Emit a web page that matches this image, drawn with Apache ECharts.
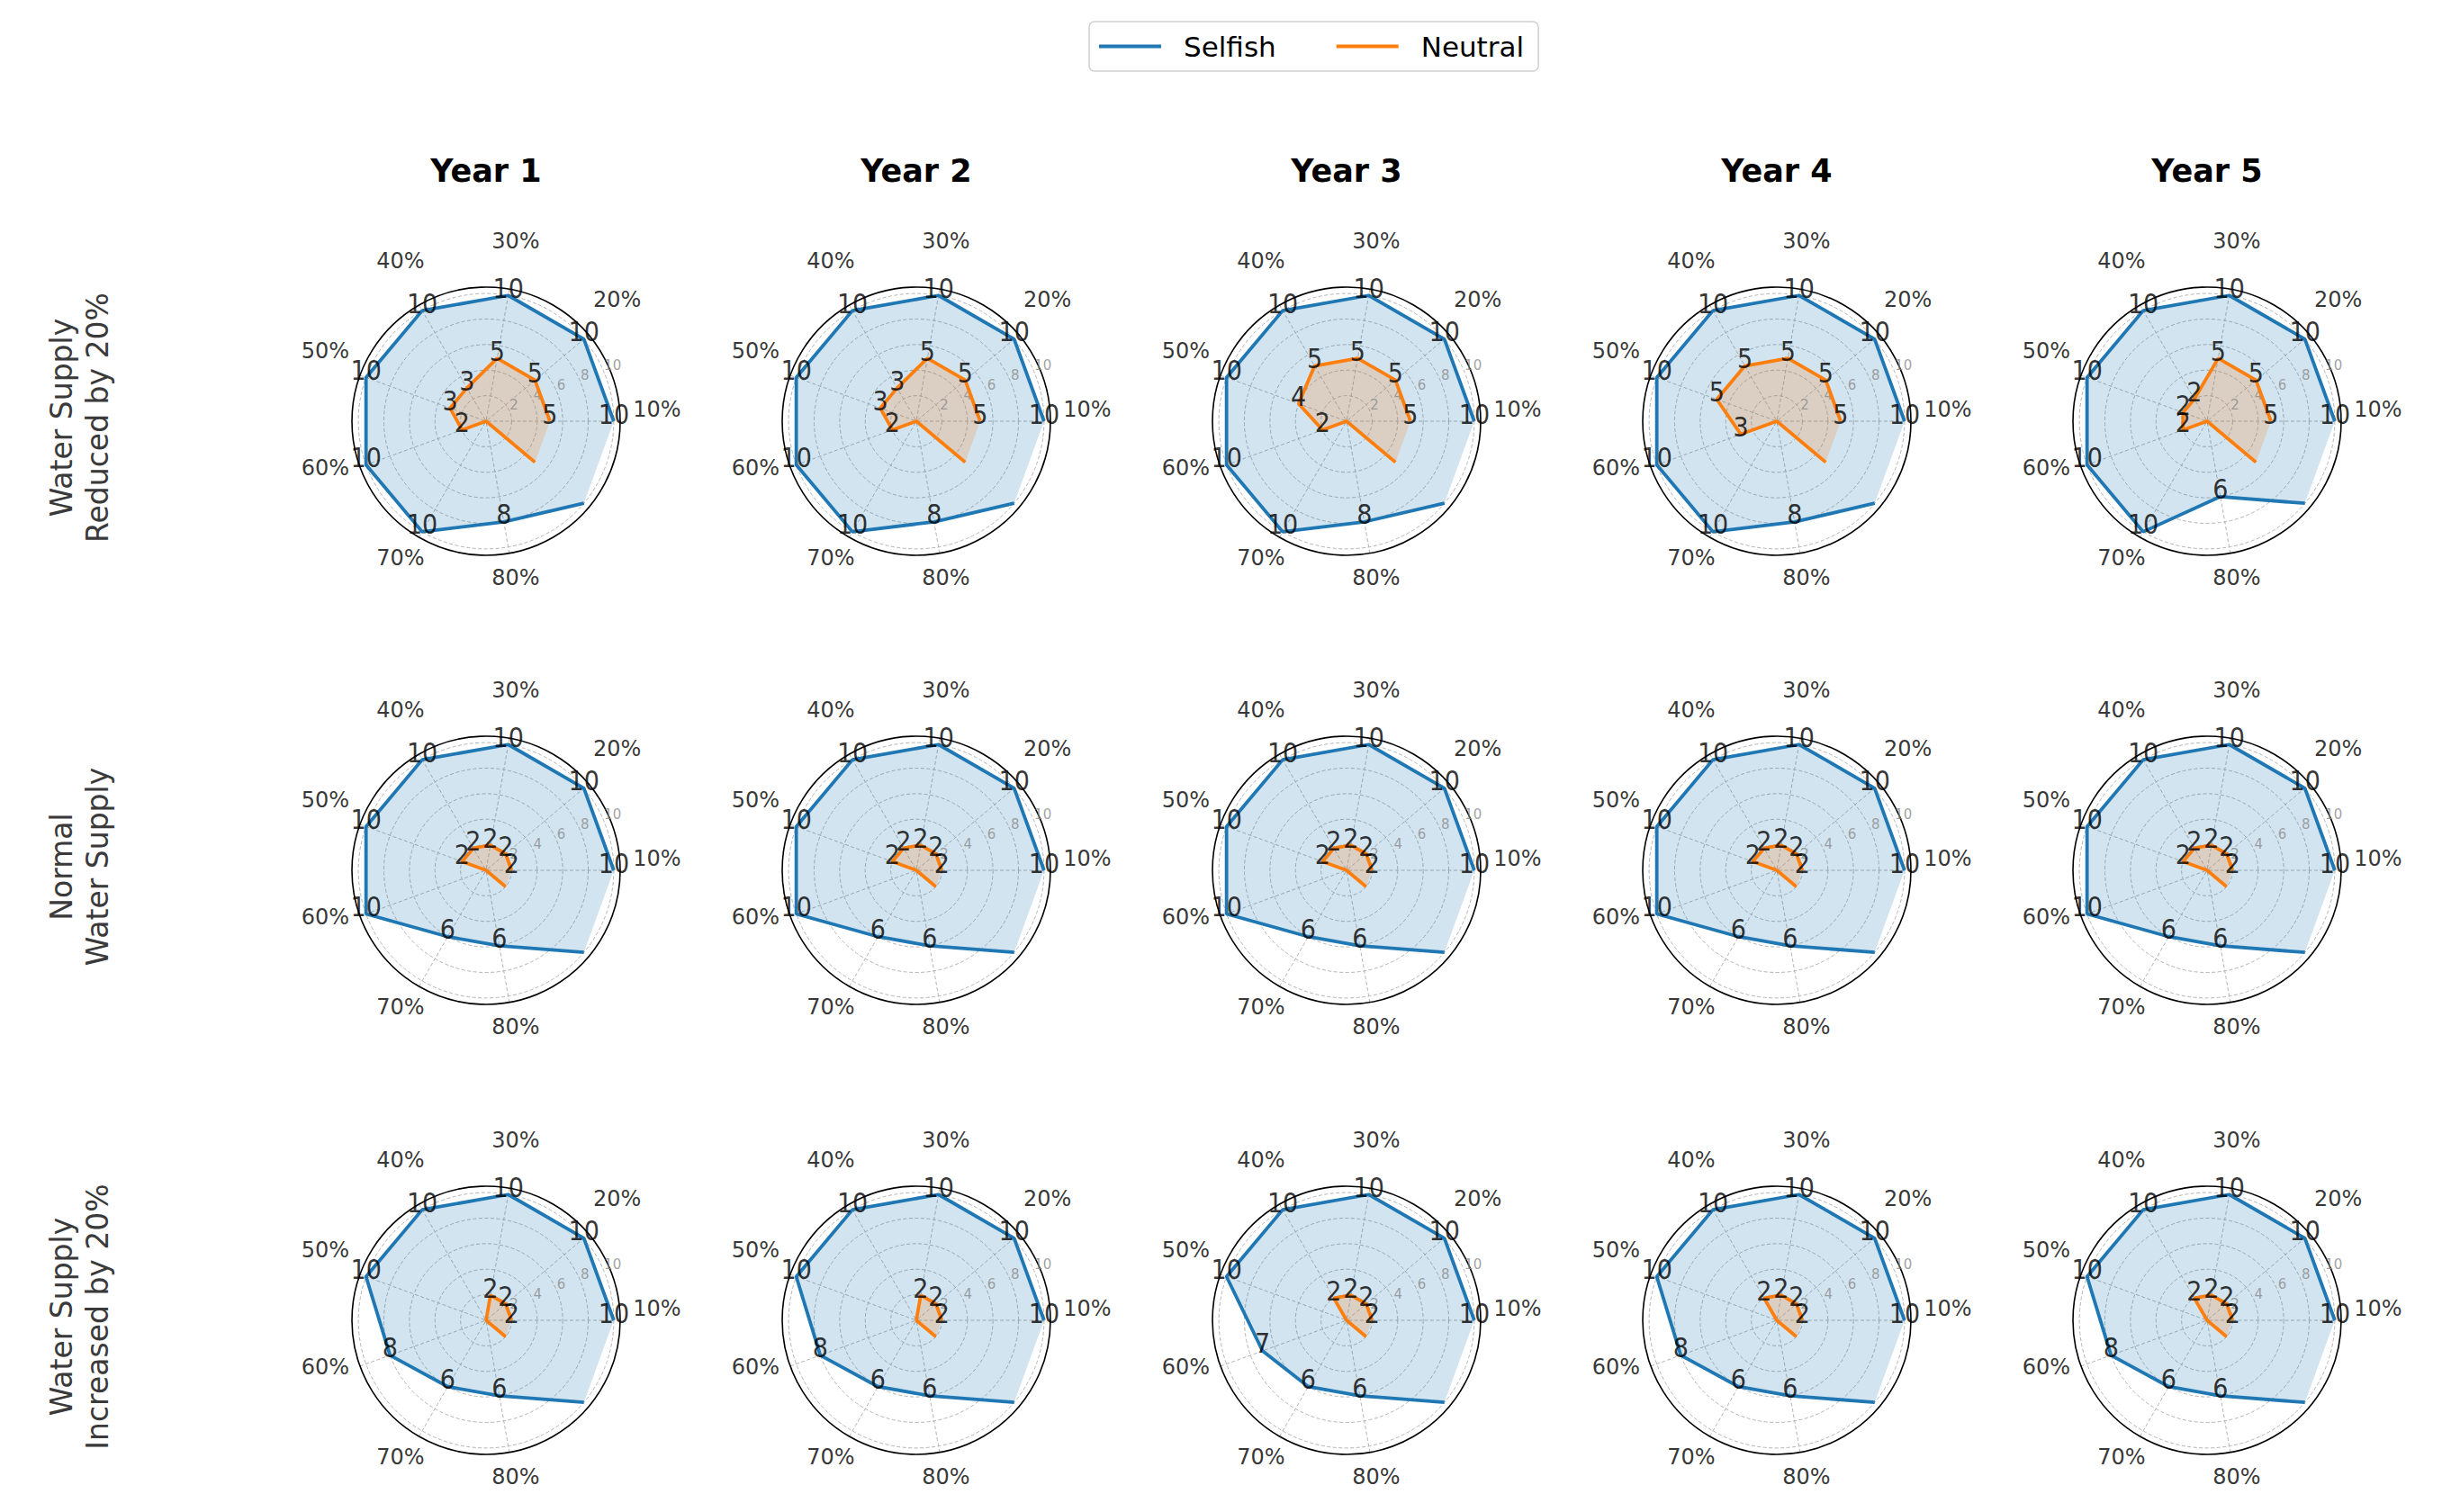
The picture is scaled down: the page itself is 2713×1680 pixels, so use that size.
<!DOCTYPE html>
<html>
<head>
<meta charset="utf-8">
<script src="https://cdn.jsdelivr.net/npm/echarts@6/dist/echarts.min.js"></script>
<style>
html,body{margin:0;padding:0;background:#ffffff;}
#chart{width:2713px;height:1680px;}
</style>
</head>
<body>
<div id="chart"></div>
<script>
// ---------------- data ----------------
const categories = ['10%', '20%', '30%', '40%', '50%', '60%', '70%', '80%', ''];
const years = ['Year 1', 'Year 2', 'Year 3', 'Year 4', 'Year 5'];
const scenarios = ['Water Supply\nReduced by 20%', 'Normal\nWater Supply', 'Water Supply\nIncreased by 20%'];
const radialTicks = [2, 4, 6, 8, 10];
const seriesNames = ['Selfish', 'Neutral'];

// Water supply reduced by 20% (one row per year)
const reducedSelfish = [
  [10, 10, 10, 10, 10, 10, 10, 8, 10],
  [10, 10, 10, 10, 10, 10, 10, 8, 10],
  [10, 10, 10, 10, 10, 10, 10, 8, 10],
  [10, 10, 10, 10, 10, 10, 10, 8, 10],
  [10, 10, 10, 10, 10, 10, 10, 6, 10]
];
const reducedNeutral = [
  [5, 5, 5, 3, 3, 2, 0, 0, 5],
  [5, 5, 5, 3, 3, 2, 0, 0, 5],
  [5, 5, 5, 5, 4, 2, 0, 0, 5],
  [5, 5, 5, 5, 5, 3, 0, 0, 5],
  [5, 5, 5, 2, 2, 2, 0, 0, 5]
];
// Normal water supply
const normalSelfish = [
  [10, 10, 10, 10, 10, 10, 6, 6, 10],
  [10, 10, 10, 10, 10, 10, 6, 6, 10],
  [10, 10, 10, 10, 10, 10, 6, 6, 10],
  [10, 10, 10, 10, 10, 10, 6, 6, 10],
  [10, 10, 10, 10, 10, 10, 6, 6, 10]
];
const normalNeutral = [
  [2, 2, 2, 2, 2, 0, 0, 0, 2],
  [2, 2, 2, 2, 2, 0, 0, 0, 2],
  [2, 2, 2, 2, 2, 0, 0, 0, 2],
  [2, 2, 2, 2, 2, 0, 0, 0, 2],
  [2, 2, 2, 2, 2, 0, 0, 0, 2]
];
// Water supply increased by 20%
const increasedSelfish = [
  [10, 10, 10, 10, 10, 8, 6, 6, 10],
  [10, 10, 10, 10, 10, 8, 6, 6, 10],
  [10, 10, 10, 10, 10, 7, 6, 6, 10],
  [10, 10, 10, 10, 10, 8, 6, 6, 10],
  [10, 10, 10, 10, 10, 8, 6, 6, 10]
];
const increasedNeutral = [
  [2, 2, 2, 0, 0, 0, 0, 0, 2],
  [2, 2, 2, 0, 0, 0, 0, 0, 2],
  [2, 2, 2, 2, 0, 0, 0, 0, 2],
  [2, 2, 2, 2, 0, 0, 0, 0, 2],
  [2, 2, 2, 2, 0, 0, 0, 0, 2]
];

// ---------------- layout / style ----------------
const selfishRows = [reducedSelfish, normalSelfish, increasedSelfish];
const neutralRows = [reducedNeutral, normalNeutral, increasedNeutral];
const COL_X = [540, 1018, 1496, 1974, 2452];
const ROW_Y = [468, 967, 1467];
const R_PX = 149;
const R_MAX = 10.5;
const LABEL_R = R_MAX * 190 / R_PX;   // where the percent labels sit
const RLABEL_ANGLE = 22.5;
const FONT = 'DejaVu Sans';
const VFONT = '"DejaVu Sans Condensed", "DejaVu Sans"';
const BLUE = '#1f77b4', ORANGE = '#ff7f0e';
const GRID = '#b4b4b4';
const STEP = 360 / categories.length;

const polar = [], angleAxis = [], radiusAxis = [], series = [], graphic = [];

const toPts = vals => vals.map((v, i) => [v, i * STEP]);
const toClosed = vals => toPts(vals).concat([[vals[0], 360]]);
const toLabelPts = vals => vals.map((v, i) => [v, i * STEP, i])
  .filter(d => d[0] > 0 && categories[d[2]] !== '')
  .map(d => [d[0], d[1]]);

function valueLabelSeries(k, vals) {
  return {
    type: 'scatter', coordinateSystem: 'polar', polarIndex: k,
    data: toLabelPts(vals), symbolSize: 1, clip: false, silent: true, z: 6,
    itemStyle: {color: 'rgba(0,0,0,0)'},
    label: {show: true, position: 'inside', align: 'center', verticalAlign: 'bottom', offset: [0, 7],
      formatter: p => String(p.value[0]), color: '#000', fontSize: 30, fontFamily: VFONT}
  };
}

let k = 0;
for (let r = 0; r < 3; r++) {
  for (let c = 0; c < 5; c++) {
    const s = selfishRows[r][c], n = neutralRows[r][c];
    polar.push({center: [COL_X[c], ROW_Y[r]], radius: R_PX});
    angleAxis.push({
      polarIndex: k, type: 'value', min: 0, max: 360, interval: STEP,
      startAngle: 0, clockwise: false,
      axisLine: {show: true, lineStyle: {color: '#000', width: 1.6}},
      axisTick: {show: false}, axisLabel: {show: false},
      splitLine: {show: true, lineStyle: {
        color: categories.map(cat => cat === '' ? 'rgba(0,0,0,0)' : GRID).concat([GRID]),
        width: 1, type: [4, 2.5]}}
    });
    radiusAxis.push({
      polarIndex: k, type: 'value', min: 0, max: R_MAX, interval: 2,
      axisLine: {show: false}, axisTick: {show: false}, axisLabel: {show: false},
      splitLine: {show: true, lineStyle: {
        color: [GRID, GRID, GRID, GRID, GRID, GRID, 'rgba(0,0,0,0)'], width: 1, type: [4, 2.5]}}
    });
    // fills (closed polygons)
    series.push({type: 'line', coordinateSystem: 'polar', polarIndex: k, data: toClosed(s),
      symbol: 'none', silent: true, z: 2, lineStyle: {width: 0, opacity: 0},
      itemStyle: {color: BLUE}, areaStyle: {color: 'rgba(31,119,180,0.2)', opacity: 1}});
    series.push({type: 'line', coordinateSystem: 'polar', polarIndex: k, data: toClosed(n),
      symbol: 'none', silent: true, z: 2, lineStyle: {width: 0, opacity: 0},
      itemStyle: {color: ORANGE}, areaStyle: {color: 'rgba(255,127,14,0.2)', opacity: 1}});
    // radial tick labels
    series.push({type: 'scatter', coordinateSystem: 'polar', polarIndex: k,
      data: radialTicks.map(t => ({name: String(t), value: [t, RLABEL_ANGLE]})),
      symbolSize: 1, clip: false, silent: true, z: 3, itemStyle: {color: 'rgba(0,0,0,0)'},
      label: {show: true, position: 'inside', align: 'left', verticalAlign: 'bottom', formatter: '{b}',
        color: '#8a8a8a', fontSize: 15, fontFamily: FONT}});
    // lines (open)
    series.push({name: seriesNames[0], type: 'line', coordinateSystem: 'polar', polarIndex: k, data: toPts(s),
      symbol: 'none', silent: true, z: 4, color: BLUE, itemStyle: {color: BLUE},
      lineStyle: {width: 3.8, color: BLUE}});
    series.push({name: seriesNames[1], type: 'line', coordinateSystem: 'polar', polarIndex: k, data: toPts(n),
      symbol: 'none', silent: true, z: 4, color: ORANGE, itemStyle: {color: ORANGE},
      lineStyle: {width: 3.8, color: ORANGE}});
    // value labels
    series.push(valueLabelSeries(k, s));
    series.push(valueLabelSeries(k, n));
    // category labels
    series.push({type: 'scatter', coordinateSystem: 'polar', polarIndex: k,
      data: categories.map((cat, i) => ({name: cat, value: [LABEL_R, i * STEP]})).filter(d => d.name !== ''),
      symbolSize: 1, clip: false, silent: true, z: 6, itemStyle: {color: 'rgba(0,0,0,0)'},
      label: {show: true, position: 'inside', align: 'center', verticalAlign: 'middle', offset: [0, -13],
        formatter: '{b}', color: '#000', fontSize: 24, fontFamily: FONT}});
    k++;
  }
}

// column titles
years.forEach((y, c) => graphic.push({type: 'text', x: COL_X[c], y: 190, silent: true,
  style: {text: y, align: 'center', verticalAlign: 'middle', fontSize: 35, fontWeight: 'bold',
    fontFamily: FONT, fill: '#000'}}));
// row labels
scenarios.forEach((t, r) => graphic.push({type: 'text', x: 88, y: ROW_Y[r] - 4, rotation: Math.PI / 2, silent: true,
  style: {text: t, align: 'center', verticalAlign: 'middle', fontSize: 33, lineHeight: 40,
    fontFamily: FONT, fill: '#3a3a3a'}}));

const chart = echarts.init(document.getElementById('chart'), null, {renderer: 'svg', width: 2713, height: 1680});
chart.setOption({
  backgroundColor: '#ffffff',
  animation: false,
  legend: {
    data: seriesNames, left: 1210, top: 24, padding: [12, 16, 12, 11],
    itemGap: 67, itemWidth: 69, itemHeight: 4, icon: 'rect',
    itemStyle: {borderWidth: 0},
    borderColor: '#d0d0d0', borderWidth: 1.5, borderRadius: 6, selectedMode: false,
    textStyle: {fontSize: 31, fontFamily: FONT, color: '#000', padding: [0, 0, 0, 20]}
  },
  polar, angleAxis, radiusAxis, series, graphic
});
</script>
</body>
</html>
